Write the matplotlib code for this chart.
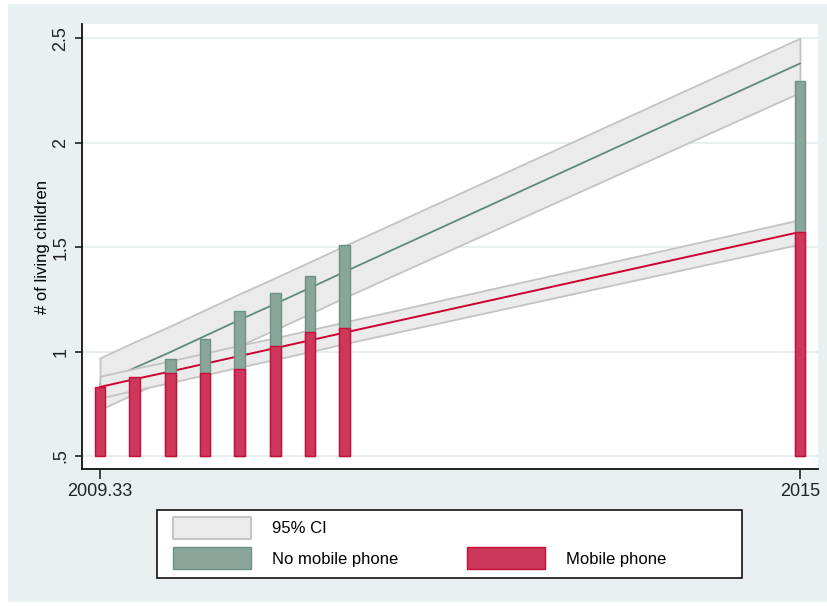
import numpy as np
import matplotlib.pyplot as plt
from matplotlib.patches import Patch, Rectangle

plt.rcParams['font.family'] = ['Liberation Sans', 'DejaVu Sans']

# survey timing (years) for each group of bars
fechas = [2009.33, 2009.61, 2009.90, 2010.18, 2010.46, 2010.75, 2011.03, 2011.31, 2015]

# mean number of living children by group
con_movil = [0.831, 0.879, 0.898, 0.898, 0.917, 1.027, 1.094, 1.113, 1.573]
sin_movil = [np.nan, np.nan, 0.965, 1.061, 1.195, 1.280, 1.360, 1.509, 2.298]

# linear fit and 95% CI, mobile phone
ajuste_movil = [0.831, 0.868, 0.905, 0.942, 0.979, 1.017, 1.054, 1.091, 1.573]
ic_movil_sup = [0.882, 0.919, 0.956, 0.993, 1.030, 1.067, 1.104, 1.142, 1.632]
ic_movil_inf = [0.778, 0.815, 0.852, 0.889, 0.926, 0.963, 1.000, 1.038, 1.515]

# linear fit and 95% CI, no mobile phone
ajuste_sin = [0.845, 0.922, 0.998, 1.075, 1.152, 1.229, 1.305, 1.382, 2.380]
ic_sin_sup = [0.970, 1.047, 1.123, 1.200, 1.277, 1.354, 1.430, 1.507, 2.501]
ic_sin_inf = [0.722, 0.799, 0.875, 0.952, 1.029, 1.106, 1.182, 1.259, 2.241]

yticks = [0.5, 1, 1.5, 2, 2.5]
yticklabels = ['.5', '1', '1.5', '2', '2.5']
xticks = [2009.33, 2015]
xticklabels = ['2009.33', '2015']

fondo = '#e8f0f2'
gris_relleno = '#ebebeb'
gris_borde = '#c3c3c3'
verde = '#8aa69a'
verde_borde = '#6d9181'
verde_linea = '#5f8b7a'
rojo = '#cd375b'
rojo_borde = '#c50f38'
rojo_linea = '#cc0033'

fig = plt.figure(figsize=(8.28, 6.06), dpi=100)
fig.patch.set_facecolor('white')
fig.patches.append(Rectangle((8 / 828, 4 / 606), 1 - 8 / 828, 1 - 8 / 606,
                             transform=fig.transFigure, facecolor=fondo,
                             edgecolor='none', zorder=-10))

ax = fig.add_axes([82 / 828, 1 - 469 / 606, 736 / 828, 445 / 606])
ax.set_facecolor('white')

x = np.array(fechas)

# sin móvil: banda y recta (la banda del otro grupo se pinta encima)
ax.fill_between(x, ic_sin_inf, ic_sin_sup, facecolor=gris_relleno,
                edgecolor=gris_borde, linewidth=1.3, zorder=1)
ax.plot(x, ajuste_sin, color=verde_linea, linewidth=1.3, zorder=1.5)

# con móvil: banda y recta
ax.fill_between(x, ic_movil_inf, ic_movil_sup, facecolor=gris_relleno,
                edgecolor=gris_borde, linewidth=1.3, zorder=1.7)
ax.plot(x, ajuste_movil, color=rojo_linea, linewidth=1.4, zorder=2)

# barras: sin móvil detrás, con móvil delante
ancho = 0.0867
base = 0.5
ax.bar(x, np.array(sin_movil) - base, bottom=base, width=ancho, color=verde,
       edgecolor=verde_borde, linewidth=1, zorder=3)
ax.bar(x, np.array(con_movil) - base, bottom=base, width=ancho, color=rojo,
       edgecolor=rojo_borde, linewidth=1, zorder=4)

ax.set_xlim(2009.184, 2015.146)
ax.set_ylim(0.438, 2.569)

ax.set_yticks(yticks)
ax.set_yticklabels(yticklabels, rotation=90, va='center', fontsize=13)
ax.set_xticks(xticks)
ax.set_xticklabels(xticklabels, fontsize=13)
ax.tick_params(axis='y', length=5, width=1.2, pad=4, colors='#222222')
ax.tick_params(axis='x', length=7, width=1.2, pad=3, colors='#222222')
ax.set_ylabel('# of living children', fontsize=12, labelpad=2)

ax.grid(axis='y', color='#e6eef0', linewidth=1.3)
ax.set_axisbelow(True)
for lado in ['top', 'right']:
    ax.spines[lado].set_visible(False)
for lado in ['left', 'bottom']:
    ax.spines[lado].set_linewidth(1.3)
    ax.spines[lado].set_color('#111111')

# leyenda con recuadro propio
fig.patches.append(Rectangle((157 / 828, 1 - 578 / 606), 585 / 828, 68 / 606,
                             transform=fig.transFigure, facecolor='white',
                             edgecolor='#111111', linewidth=1.2, zorder=1))
manejadores = [
    Patch(facecolor=gris_relleno, edgecolor=gris_borde, linewidth=1.3, label='95% CI'),
    Patch(facecolor=verde, edgecolor=verde_borde, linewidth=1, label='No mobile phone'),
    Patch(facecolor='none', edgecolor='none', label=' '),
    Patch(facecolor=rojo, edgecolor=rojo_borde, linewidth=1, label='Mobile phone'),
]
fig.legend(handles=manejadores, ncol=2, loc='upper left',
           bbox_to_anchor=(173 / 828, 1 - 517 / 606), frameon=False,
           fontsize=12, handlelength=4.68, handleheight=1.65, handletextpad=1.26,
           columnspacing=4.1, labelspacing=0.5, borderpad=0, borderaxespad=0)

fig.savefig('out.png', dpi=100, facecolor=fig.get_facecolor())
